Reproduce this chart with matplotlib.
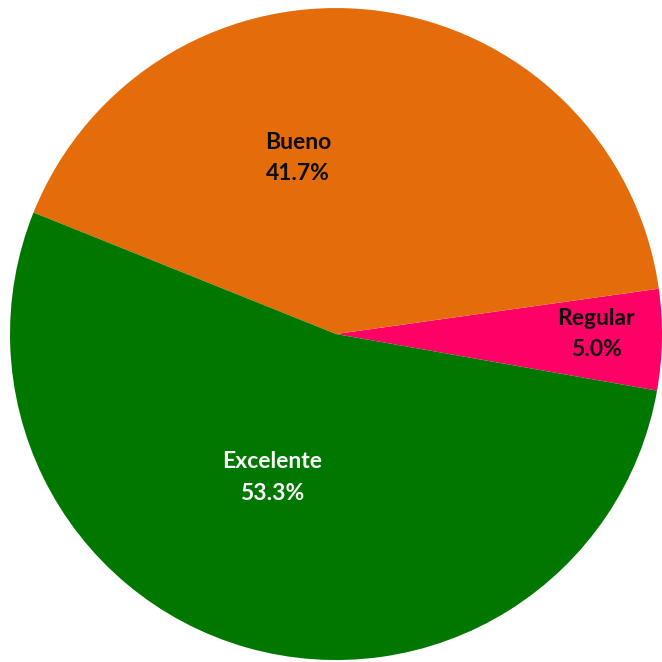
import matplotlib.pyplot as plt

labels = ['Regular', 'Bueno', 'Excelente']
values = [5.0, 41.7, 53.3]
colors = ['#FF0066', '#E46C0A', '#007800']
text_colors = ['#0D0D0D', '#0D0D0D', 'white']
# label centres in data units (pie radius = 1)
label_pos = [(0.798, 0.0), (-0.117, 0.54), (-0.196, -0.44)]

fig = plt.figure(figsize=(6.62, 6.62), dpi=100)
ax = fig.add_axes([0, 0, 1, 1])
ax.pie(values, colors=colors, startangle=-10, counterclock=True, radius=1,
       wedgeprops=dict(linewidth=0))
total = sum(values)
for lab, v, (x, y), tc in zip(labels, values, label_pos, text_colors):
    ax.text(x, y, f'{lab}\n{v / total * 100:.1f}%', ha='center', va='center',
            fontsize=16.5, fontweight='bold', family='Lato', color=tc,
            linespacing=1.6)

ax.set_xlim(-1.0307, 1.0)
ax.set_ylim(-1.006, 1.0246)
ax.set_aspect('equal')
ax.axis('off')
fig.savefig('out.png', dpi=100, facecolor='white')
